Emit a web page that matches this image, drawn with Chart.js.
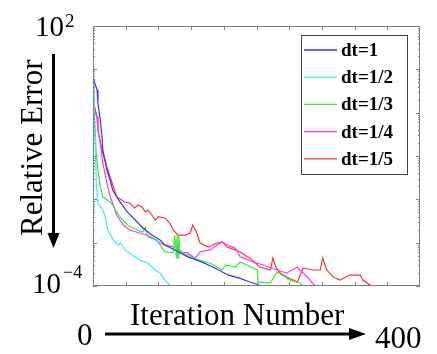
<!DOCTYPE html>
<html>
<head>
<meta charset="utf-8">
<script src="https://cdn.jsdelivr.net/npm/chart.js@4"></script>
<style>
    html, body { margin: 0; padding: 0; background: #fff; }
    #wrap { width: 437px; height: 354px; }
</style>
</head>
<body>
<div id="wrap"><canvas id="errChart" width="437" height="354"></canvas></div>
<script>
// Series data (iteration number, relative error)
const labels = ['dt=1', 'dt=1/2', 'dt=1/3', 'dt=1/4', 'dt=1/5'];

const iterDt1 = [1, 5, 6, 9, 11, 12, 17, 21, 24, 33, 42, 54, 61, 72, 82, 88, 100, 116, 133, 149, 165, 180, 192, 207];
const errDt1 = [5.68, 3.34, 1.67, 0.678, 0.275, 0.138, 0.0475, 0.0279, 0.0164, 0.00869, 0.00511, 0.0030, 0.00218, 0.0015, 0.00115, 0.00088, 0.00068, 0.00047, 0.00036, 0.00026, 0.00018, 0.00015, 0.000124, 0.0001];

const iterDt2 = [1, 2, 3, 4, 6, 12, 15, 18, 25, 31, 34, 39, 51, 57, 67, 76, 82, 88, 95];
const errDt2 = [6.31, 0.4, 0.138, 0.0238, 0.00824, 0.00568, 0.00391, 0.00196, 0.00115, 0.00088, 0.00098, 0.00068, 0.00047, 0.0004, 0.00034, 0.000234, 0.0002, 0.000137, 0.0001];

const iterDt3 = [1, 2, 4, 6, 9, 12, 21, 24, 33, 42, 54, 61, 64, 67, 78, 88, 98, 100, 102, 103, 104, 105, 106, 109, 121, 128, 143, 158, 162, 174, 180, 188, 201, 202, 217, 225, 241, 253, 257];
const errDt3 = [2.56, 0.678, 0.117, 0.0475, 0.0193, 0.0113, 0.00869, 0.0074, 0.00391, 0.00256, 0.00196, 0.00176, 0.0023, 0.00135, 0.00115, 0.00061, 0.00058, 0.0015, 0.00044, 0.0015, 0.00044, 0.00145, 0.00058, 0.00058, 0.00047, 0.0004, 0.00034, 0.000234, 0.000305, 0.000274, 0.000358, 0.000305, 0.000234, 0.000124, 0.000117, 0.00021, 0.000137, 0.000117, 0.0001];

const iterDt4 = [1, 5, 6, 9, 12, 17, 21, 24, 29, 37, 45, 57, 66, 73, 82, 88, 100, 109, 116, 125, 131, 143, 152, 158, 164, 174, 180, 196, 208, 225, 237, 250, 253, 262, 272];
const errDt4 = [1.15, 0.794, 0.398, 0.2, 0.069, 0.0238, 0.0113, 0.00824, 0.00436, 0.00256, 0.00196, 0.00167, 0.0015, 0.00128, 0.00098, 0.00088, 0.00079, 0.00061, 0.00058, 0.00044, 0.00061, 0.00068, 0.00088, 0.00104, 0.00088, 0.00075, 0.00047, 0.00036, 0.000305, 0.000234, 0.0002, 0.000274, 0.000234, 0.000161, 0.0001];

const iterDt5 = [1, 5, 6, 9, 11, 17, 21, 29, 35, 39, 45, 51, 55, 60, 64, 67, 72, 76, 80, 88, 94, 98, 104, 113, 119, 122, 127, 131, 141, 152, 158, 164, 174, 180, 192, 204, 217, 220, 224, 229, 237, 250, 257, 269, 278, 281, 286, 294, 302, 314, 327, 330, 339, 345];
const errDt5 = [1.67, 0.794, 0.398, 0.2, 0.138, 0.0557, 0.0328, 0.0113, 0.00966, 0.00869, 0.00824, 0.00631, 0.0074, 0.00665, 0.00511, 0.00568, 0.00436, 0.00334, 0.00391, 0.00371, 0.00284, 0.00196, 0.0015, 0.0015, 0.00167, 0.00256, 0.00167, 0.00098, 0.00079, 0.00098, 0.00104, 0.00079, 0.00068, 0.00061, 0.00044, 0.000274, 0.000234, 0.00044, 0.00026, 0.0002, 0.000161, 0.000124, 0.00026, 0.000234, 0.000234, 0.00044, 0.000234, 0.000161, 0.000137, 0.000179, 0.000179, 0.000137, 0.000105, 0.0001];

const iterSets = [iterDt1, iterDt2, iterDt3, iterDt4, iterDt5];
const errSets = [errDt1, errDt2, errDt3, errDt4, errDt5];
const colors = ['#3333ff', '#33eeff', '#33ee33', '#ff33ff', '#ff3333'];

// Axis ranges / ticks (labels are drawn as annotations like the original)
const xMin = 0, xMax = 400, xStep = 40;
const yMin = 1e-4, yMax = 1e2;

function toPoints(xs, ys) {
    return xs.map((x, i) => ({ x: x, y: ys[i] }));
}

// Frame, inward ticks, legend box and the outer annotations
const decorPlugin = {
    id: 'decor',
    afterDatasetsDraw(chart) {
        const ctx = chart.ctx;
        const area = chart.chartArea;
        const xs = chart.scales.x;
        const ys = chart.scales.y;
        ctx.save();

        // axes box
        ctx.strokeStyle = '#808080';
        ctx.lineWidth = 1;
        ctx.strokeRect(Math.round(area.left) + 0.5, Math.round(area.top) + 0.5,
            Math.round(area.right - area.left) - 1, Math.round(area.bottom - area.top) - 1);

        // x ticks (top and bottom)
        ctx.beginPath();
        for (let v = xMin + xStep; v < xMax; v += xStep) {
            const px = Math.round(xs.getPixelForValue(v)) + 0.5;
            ctx.moveTo(px, area.bottom);
            ctx.lineTo(px, area.bottom - 4);
            ctx.moveTo(px, area.top);
            ctx.lineTo(px, area.top + 4);
        }
        // y ticks (left and right), log decades with minor ticks
        for (let e = -4; e < 2; e++) {
            for (let m = 1; m <= 9; m++) {
                const py = Math.round(ys.getPixelForValue(m * Math.pow(10, e))) + 0.5;
                const len = m === 1 ? 4 : 2;
                ctx.moveTo(area.left, py);
                ctx.lineTo(area.left + len, py);
                ctx.moveTo(area.right, py);
                ctx.lineTo(area.right - len, py);
            }
        }
        ctx.stroke();

        // legend
        const lx = 301, ly = 35, lw = 106, lh = 139;
        ctx.fillStyle = '#fff';
        ctx.fillRect(lx, ly, lw, lh);
        ctx.strokeStyle = '#444';
        ctx.strokeRect(lx + 0.5, ly + 0.5, lw, lh);
        ctx.font = 'bold 19px "Liberation Serif", "Times New Roman", serif';
        ctx.textBaseline = 'middle';
        ctx.textAlign = 'left';
        chart.data.datasets.forEach((ds, i) => {
            const cy = 50 + i * 27.2;
            ctx.strokeStyle = ds.borderColor;
            ctx.lineWidth = 1.3;
            ctx.beginPath();
            ctx.moveTo(304, cy);
            ctx.lineTo(337, cy);
            ctx.stroke();
            ctx.fillStyle = '#000';
            ctx.fillText(ds.label, 341, cy + 1);
        });

        // outer annotations
        ctx.fillStyle = '#000';
        ctx.strokeStyle = '#000';
        ctx.textBaseline = 'alphabetic';
        const serif = '"Liberation Serif", "Times New Roman", serif';

        ctx.font = '29px ' + serif;
        ctx.fillText('10', 35, 36);
        ctx.font = '19px ' + serif;
        ctx.fillText('2', 65, 27);

        ctx.font = '29px ' + serif;
        ctx.fillText('10', 32, 293);
        ctx.font = '18px ' + serif;
        ctx.fillText('\u22124', 63, 278);

        ctx.font = '31px ' + serif;
        ctx.fillText('0', 77, 345);
        ctx.fillText('400', 375, 348);
        ctx.fillText('Iteration Number', 130, 325);

        ctx.save();
        ctx.translate(42, 236);
        ctx.rotate(-Math.PI / 2);
        ctx.fillText('Relative Error', 0, 0);
        ctx.restore();

        // vertical arrow
        ctx.lineWidth = 3;
        ctx.beginPath();
        ctx.moveTo(53.5, 54);
        ctx.lineTo(53.5, 236);
        ctx.stroke();
        ctx.beginPath();
        ctx.moveTo(47.5, 233);
        ctx.lineTo(59.5, 233);
        ctx.lineTo(53.5, 248);
        ctx.closePath();
        ctx.fill();

        // horizontal arrow
        ctx.beginPath();
        ctx.moveTo(105, 334);
        ctx.lineTo(352, 334);
        ctx.stroke();
        ctx.beginPath();
        ctx.moveTo(349, 328);
        ctx.lineTo(349, 340);
        ctx.lineTo(366, 334);
        ctx.closePath();
        ctx.fill();

        ctx.restore();
    }
};

document.addEventListener('DOMContentLoaded', function() {
    const ctx = document.getElementById('errChart');
    new Chart(ctx, {
        type: 'line',
        data: {
            datasets: labels.map((lab, i) => ({
                label: lab,
                data: toPoints(iterSets[i], errSets[i]),
                borderColor: colors[i],
                backgroundColor: colors[i],
                borderWidth: 1.2,
                pointRadius: 0,
                tension: 0,
                fill: false
            }))
        },
        options: {
            responsive: false,
            animation: false,
            layout: {
                padding: { left: 93, top: 26, right: 17, bottom: 68 }
            },
            plugins: {
                legend: { display: false },
                tooltip: { enabled: false }
            },
            scales: {
                x: {
                    type: 'linear',
                    min: xMin,
                    max: xMax,
                    display: false
                },
                y: {
                    type: 'logarithmic',
                    min: yMin,
                    max: yMax,
                    display: false
                }
            }
        },
        plugins: [decorPlugin]
    });
});
</script>
</body>
</html>
